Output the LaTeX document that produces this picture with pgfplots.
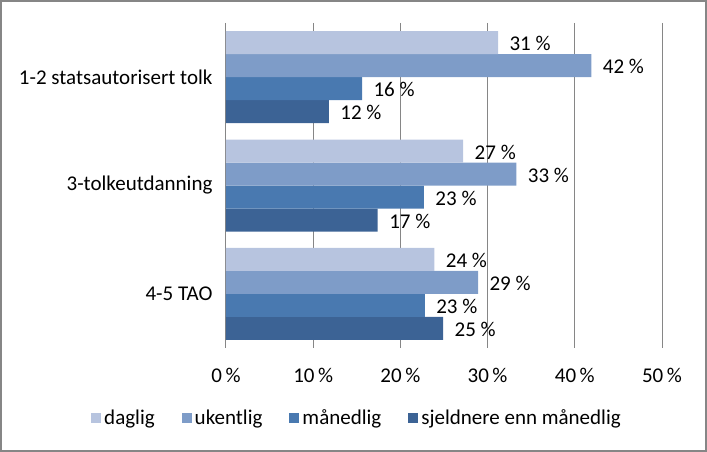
\documentclass[border=0pt]{standalone}
\usepackage{pgfplots}
\pgfplotsset{compat=1.18}
\usepackage{fontspec}
\setmainfont{Carlito}
\definecolor{cA}{RGB}{183,196,223}
\definecolor{cB}{RGB}{126,156,200}
\definecolor{cC}{RGB}{73,121,176}
\definecolor{cD}{RGB}{60,99,149}
\definecolor{gridc}{RGB}{134,134,134}
\begin{document}
\begin{tikzpicture}[x=1pt,y=1pt]
\draw[gridc,line width=2pt] (1,1) rectangle (706,451);
\begin{axis}[
  at={(226pt,104pt)}, anchor=south west,
  scale only axis, width=436pt, height=325pt,
  xbar=0pt, bar width=23pt,
  xmin=0, xmax=50,
  ymin=-0.5, ymax=2.5, y dir=reverse,
  ytick={0,1,2},
  yticklabels={1-2 statsautorisert tolk,3-tolkeutdanning,4-5 TAO},
  xtick={0,10,20,30,40,50},
  xticklabel={\pgfmathprintnumber{\tick}\,\%},
  /pgf/number format/assume math mode=true,
  major tick length=0pt,
  axis line style={draw=none},
  xmajorgrids, grid style={gridc, line width=1pt},
  tick label style={font=\fontsize{21}{24}\selectfont},
  yticklabel style={xshift=-10pt},
  xticklabel style={yshift=-17pt},
  nodes near coords={\pgfmathprintnumber[fixed,precision=0]{\pgfplotspointmeta}~\%},
  nodes near coords style={font=\fontsize{21}{24}\selectfont, anchor=west, xshift=8pt, yshift=-1pt, text=black},
  legend columns=4, reverse legend,
  legend style={at={(0.3016,-0.215)}, anchor=center, draw=none, font=\fontsize{21}{24}\selectfont,
    /tikz/every even column/.append style={column sep=24pt},
    nodes={inner xsep=3pt}},
  legend image code/.code={\fill[#1] (0pt,-5pt) rectangle (10pt,5pt);},
  every axis plot/.append style={draw=none},
]
\addplot[fill=cD] coordinates {(11.8,0) (17.4,1) (24.9,2)};
\addlegendentry{sjeldnere enn månedlig}
\addplot[fill=cC] coordinates {(15.6,0) (22.7,1) (22.8,2)};
\addlegendentry{månedlig}
\addplot[fill=cB] coordinates {(41.9,0) (33.3,1) (28.9,2)};
\addlegendentry{ukentlig}
\addplot[fill=cA] coordinates {(31.2,0) (27.2,1) (23.9,2)};
\addlegendentry{daglig}
\end{axis}
\end{tikzpicture}
\end{document}
